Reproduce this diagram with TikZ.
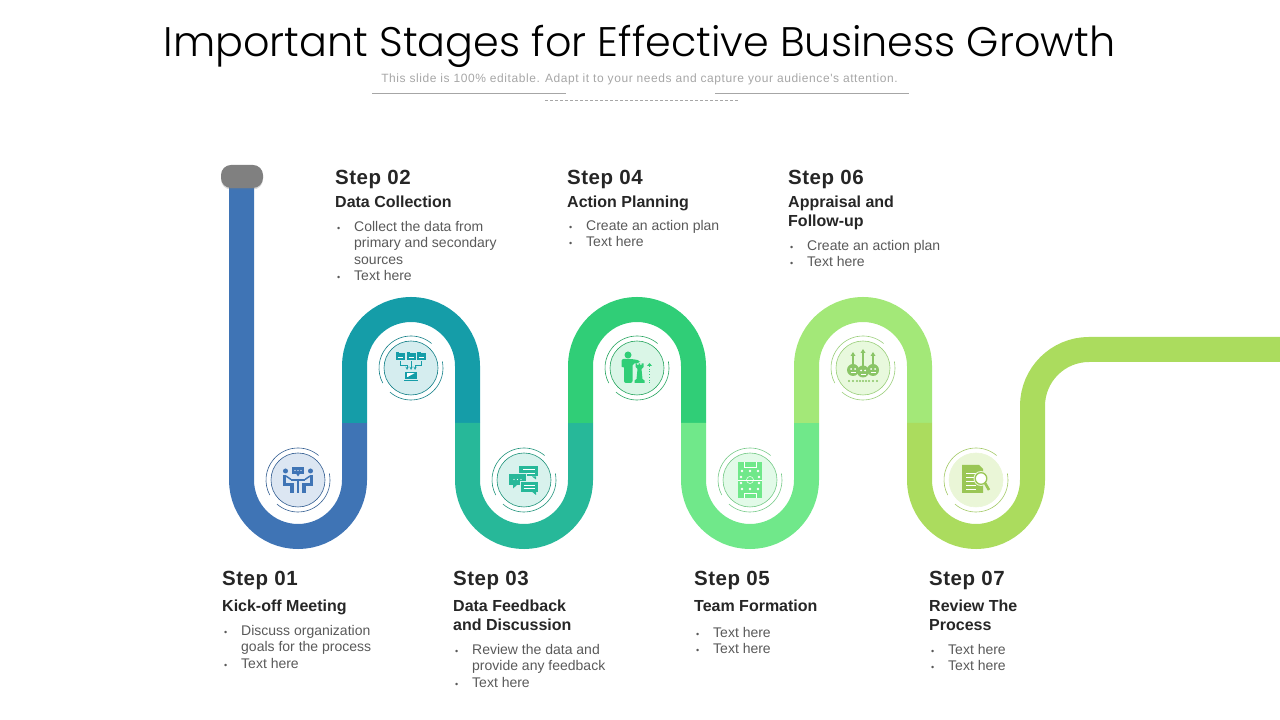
\documentclass[tikz,border=0pt]{standalone}
\usepackage{fontspec}
\setmainfont{Liberation Sans}
\newfontfamily\titlefont[UprightFont={* Light}]{Poppins}
\newfontfamily\subfont[LetterSpace=4.8]{Liberation Sans}
\newfontfamily\stepfont[LetterSpace=2.5]{Liberation Sans}
\usetikzlibrary{shadows}
\definecolor{cblue}{HTML}{3F74B5}
\definecolor{cteal}{HTML}{159DA8}
\definecolor{csea}{HTML}{27B899}
\definecolor{cgreen}{HTML}{30CE77}
\definecolor{cmint}{HTML}{70E88A}
\definecolor{clime}{HTML}{A3E878}
\definecolor{colive}{HTML}{ABDC5E}
\definecolor{cink}{HTML}{262626}
\definecolor{cbody}{HTML}{595959}
\tikzstyle{seg}=[line width=25pt]
\tikzstyle{stepname}=[anchor=base west,inner sep=0pt,text=cink,font=\stepfont\bfseries\fontsize{20.5}{24}\selectfont]
\tikzstyle{stephead}=[anchor=north west,inner sep=0pt,align=left,text=cink,font=\bfseries\fontsize{16}{19}\selectfont]
\tikzstyle{steplist}=[anchor=north west,inner sep=0pt,align=left,text=cbody,font=\fontsize{14}{16.5}\selectfont]
\tikzstyle{ring}=[line width=0.6pt]
\tikzstyle{rule}=[line width=0.6pt,color=black!35]
\newcommand{\bul}{\rule{0pt}{11pt}\makebox[19pt][l]{\hspace{2pt}{\fontsize{9}{9}\selectfont\textbullet}}}
\newcommand{\cont}{\rule{0pt}{11pt}\hspace*{19pt}}
\newcommand{\hd}{\rule{0pt}{12pt}}
\begin{document}
\begin{tikzpicture}[x=1pt,y=1pt]
\useasboundingbox (0,0) rectangle (1280,720);
% heading
\node [anchor=base,inner sep=0pt,font=\titlefont\fontsize{41.3}{50}\selectfont] (title) at (639.5,663) {Important Stages for Effective Business Growth};
\node [anchor=base,inner sep=0pt,text=black!35,font=\subfont\fontsize{12}{14}\selectfont] (sub) at (639.5,637) {This slide is 100\% editable. Adapt it to your needs and capture your audience's attention.};
\draw [rule] (372,627) -- (566,627);
\draw [rule] (715,627) -- (909,627);
\draw [rule,dashed,dash pattern=on 3pt off 2pt] (545,620) -- (739,620);
% road
\draw [seg,cblue] (241.5,535) -- (241.5,240) arc[start angle=180,end angle=360,radius=56.5pt] -- (354.5,297);
\draw [seg,cteal] (354.5,297) -- (354.5,354) arc[start angle=180,end angle=0,radius=56.5pt] -- (467.5,297);
\draw [seg,csea] (467.5,297) -- (467.5,240) arc[start angle=180,end angle=360,radius=56.5pt] -- (580.5,297);
\draw [seg,cgreen] (580.5,297) -- (580.5,354) arc[start angle=180,end angle=0,radius=56.5pt] -- (693.5,297);
\draw [seg,cmint] (693.5,297) -- (693.5,240) arc[start angle=180,end angle=360,radius=56.5pt] -- (806.5,297);
\draw [seg,clime] (806.5,297) -- (806.5,354) arc[start angle=180,end angle=0,radius=56.5pt] -- (919.5,297);
\draw [seg,colive] (919.5,297) -- (919.5,240) arc[start angle=180,end angle=360,radius=56.5pt] -- (1032.5,314) arc[start angle=180,end angle=90,radius=56.5pt] -- (1280,370.5);
\node [fill=black!50,rounded corners=10pt,minimum width=42pt,minimum height=23pt,inner sep=0pt,drop shadow={shadow xshift=0pt,shadow yshift=-1.5pt,opacity=0.3}] (cap) at (242,543.5) {};
% discs
\foreach \x/\y/\c/\r/\o in {298/240/cblue!18/cblue!80!black/cblue!80!black,411/352/cteal!18/cteal!80!black/cteal!80!black,524/240/csea!18/csea!80!black/csea!80!black,637/352/cgreen!18/cgreen!80!black/cgreen!80!black,750/240/cmint!20/cmint!70!gray/cmint!70!gray,863/352/clime!25/clime!75!gray/clime!75!gray,976/240/colive!25/colive!80!gray/colive!25}
{
\fill [\c] (\x,\y) circle(27pt);
\draw [ring,\o] (\x,\y) circle(27pt);
\draw [ring,\r] (\x,\y) ++(50:32pt) arc[start angle=50,end angle=208,radius=32pt];
\draw [ring,\r] (\x,\y) ++(229:32pt) arc[start angle=229,end angle=372,radius=32pt];
}
% meeting
\begin{scope}[shift={(298,240)},cblue]
\fill (-6,6) rectangle (6,13);
\fill (-2,6.5) -- (2,6.5) -- (0,3.5) -- cycle;
\foreach \t in {-3,0,3} \fill [white] (\t,9.5) circle(0.7pt);
\fill (-12.5,9) circle(2.5pt);
\fill (12.5,9) circle(2.5pt);
\draw [line width=3.5pt] (-13.5,5) -- (-13.5,-4.5) -- (-6,-4.5) -- (-6,-13);
\draw [line width=3.5pt] (13.5,5) -- (13.5,-4.5) -- (6,-4.5) -- (6,-13);
\draw [line width=2pt] (-7,0) -- (7,0);
\draw [line width=2pt] (0,0) -- (0,-13);
\draw [line width=1.5pt] (-12,4) -- (-7,0.5);
\draw [line width=1.5pt] (12,4) -- (7,0.5);
\end{scope}
% folders
\begin{scope}[shift={(411,352)},cteal]
\foreach \t in {-11,0,10.5} {
\fill (\t-4.5,8) rectangle (\t+4.5,15);
\fill (\t-4.5,15) rectangle (\t-1,16);
\draw [white,line width=0.5pt] (\t-2.5,11) -- (\t+2.5,11);
}
\draw [line width=0.5pt,->,>=stealth] (-11,7) -- (-11,3) -- (-4,3) -- (-4,-2);
\draw [line width=0.5pt,->,>=stealth] (0,7) -- (0,-2);
\draw [line width=0.5pt,->,>=stealth] (10.5,7) -- (10.5,3) -- (4,3) -- (4,-2);
\fill (-6,-11) rectangle (6,-4);
\fill [white] (-4,-9.5) rectangle (4,-5);
\fill (-4,-9.5) -- (4,-5) -- (4,-9.5) -- cycle;
\fill (-7,-13.5) rectangle (7,-12.5);
\end{scope}
% chat
\begin{scope}[shift={(524,240)},csea]
\fill (-5,3.5) rectangle (14,14);
\fill (8,3.5) -- (12,3.5) -- (12,0.5) -- cycle;
\draw [white,line width=0.6pt] (-1,10.5) -- (11,10.5);
\draw [white,line width=0.6pt] (3,6.8) -- (11,6.8);
\fill [csea!18] (-15.8,-5.8) rectangle (2.5,6.5);
\fill (-15,-5) rectangle (1.7,5.7);
\fill (-11,-5) -- (-7,-5) -- (-11,-8.5) -- cycle;
\foreach \t in {-10,-6.5,-3} \fill [white] (\t,0.5) circle(0.7pt);
\fill [csea!18] (-4,-12.5) rectangle (14.8,-1.5);
\fill (-3.3,-11.7) rectangle (14,-2.3);
\fill (8,-11.7) -- (12,-11.7) -- (12,-15) -- cycle;
\draw [white,line width=0.6pt] (-0.5,-5.5) -- (11,-5.5);
\draw [white,line width=0.6pt] (-0.5,-8.8) -- (11,-8.8);
\end{scope}
% rook
\begin{scope}[shift={(637,352)},cgreen]
\fill (-9,13) circle(3.5pt);
\fill [rounded corners=2pt] (-15.5,9) -- (-5,9) -- (3,7.5) -- (3,5) -- (-4.5,4.5) -- (-4.5,-15) -- (-13,-15) -- (-13,2) -- (-15.5,0) -- cycle;
\fill (-2.5,-15) -- (7.5,-15) -- (7.5,-12.5) -- (5.5,-11) -- (4.5,-1) -- (6.5,1) -- (6.5,4.5) -- (4.5,4.5) -- (4.5,3) -- (3,3) -- (3,4.5) -- (1.5,4.5) -- (1.5,3) -- (0,3) -- (0,4.5) -- (-1.5,4.5) -- (-1.5,1) -- (0.5,-1) -- (-0.5,-11) -- (-2.5,-12.5) -- cycle;
\draw [line width=0.7pt,dotted] (12.5,-15) -- (12.5,3);
\fill (10,2) -- (15,2) -- (12.5,5) -- cycle;
\end{scope}
% field
\begin{scope}[shift={(750,240)},cmint]
\fill (-12.3,-18) rectangle (12,18);
\draw [white,line width=0.5pt] (-12,0) -- (12,0);
\draw [white,line width=0.5pt] (0,0) circle(3.5pt);
\draw [white,line width=0.5pt] (-6,18) -- (-6,13) -- (6,13) -- (6,18);
\draw [white,line width=0.5pt] (-6,-18) -- (-6,-13) -- (6,-13) -- (6,-18);
\foreach \a/\b in {-8/9,0/9,8/9,-9/3,9/3,-9/-3,9/-3,-8/-9,0/-9,8/-9} \fill [white] (\a,\b) circle(1.3pt);
\end{scope}
% faces
\begin{scope}[shift={(863,352)},clime!85!black]
\foreach \a/\b/\t in {-10/-2/13,0/-3.5/16,10/-2/13} {
\draw [line width=1.3pt] (\a,\b+5) -- (\a,\t);
\fill (\a-2.5,\t-1) -- (\a+2.5,\t-1) -- (\a,\t+3) -- cycle;
\fill (\a,\b) circle(6pt);
\fill [white] (\a-2,\b+1) circle(1pt);
\fill [white] (\a+2,\b+1) circle(1pt);
\draw [white,line width=0.7pt] (\a-2.5,\b-2.5) -- (\a+2.5,\b-2.5);
}
\foreach \t in {-14,-10,-6,-3,0,3,6,10,14} \fill (\t,-13) circle(1.1pt);
\end{scope}
% review
\begin{scope}[shift={(976,240)},colive!90!black]
\fill (-14,15) -- (3,15) -- (7,11) -- (7,-13) -- (-14,-13) -- cycle;
\foreach \t in {7,3,-1,-5,-9} \draw [white,line width=0.7pt] (-10,\t) -- (0,\t);
\fill [colive!25] (5,1.5) circle(7.5pt);
\draw [line width=1.3pt,fill=white] (5,1.5) circle(5.8pt);
\draw [line width=2.6pt] (9,-3) -- (13,-10);
\end{scope}
% steps
\node [stepname] (s1) at (222,134) {Step 01};
\node [stephead] (h1) at (222,120.5) {\hd Kick-off Meeting};
\node [steplist] (l1) at (222,96) {\bul Discuss organization\\\cont goals for the process\\\bul Text here};
\node [stepname] (s2) at (335,535) {Step 02};
\node [stephead] (h2) at (335,524.5) {\hd Data Collection};
\node [steplist] (l2) at (335,500) {\bul Collect the data from\\\cont primary and secondary\\\cont sources\\\bul Text here};
\node [stepname] (s3) at (453,134) {Step 03};
\node [stephead] (h3) at (453,120.5) {\hd Data Feedback\\\hd and Discussion};
\node [steplist] (l3) at (453,77) {\bul Review the data and\\\cont provide any feedback\\\bul Text here};
\node [stepname] (s4) at (567,535) {Step 04};
\node [stephead] (h4) at (567,524.5) {\hd Action Planning};
\node [steplist] (l4) at (567,501) {\bul Create an action plan\\\bul Text here};
\node [stepname] (s5) at (694,134) {Step 05};
\node [stephead] (h5) at (694,120.5) {\hd Team Formation};
\node [steplist] (l5) at (694,94) {\bul Text here\\\bul Text here};
\node [stepname] (s6) at (788,535) {Step 06};
\node [stephead] (h6) at (788,524.5) {\hd Appraisal and\\\hd Follow-up};
\node [steplist] (l6) at (788,481) {\bul Create an action plan\\\bul Text here};
\node [stepname] (s7) at (929,134) {Step 07};
\node [stephead] (h7) at (929,120.5) {\hd Review The\\\hd Process};
\node [steplist] (l7) at (929,77) {\bul Text here\\\bul Text here};
\end{tikzpicture}
\end{document}
